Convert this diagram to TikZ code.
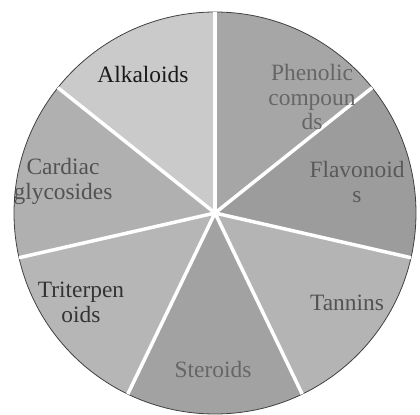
\documentclass[tikz,border=0pt]{standalone}
\usepackage{fontspec}
\setmainfont{Liberation Serif}
\usetikzlibrary{calc}
\definecolor{cPhen}{HTML}{A6A6A6}
\definecolor{cFlav}{HTML}{9C9C9C}
\definecolor{cTann}{HTML}{B4B4B4}
\definecolor{cSter}{HTML}{A2A2A2}
\definecolor{cTrit}{HTML}{B6B6B6}
\definecolor{cCard}{HTML}{B0B0B0}
\definecolor{cAlka}{HTML}{CACACA}
\begin{document}
\begin{tikzpicture}[x=1bp,y=1bp,
  lbl/.style={inner sep=0pt, align=center, font=\fontsize{23.5}{25}\selectfont},
  sep/.style={white, line width=3.5bp},
  rim/.style={draw=black!75, line width=0.8bp}]
\useasboundingbox (0,0) rectangle (420,415);
\coordinate (c) at (215,202);
\def\R{201}
\foreach \i/\col in {0/cPhen,1/cFlav,2/cTann,3/cSter,4/cTrit,5/cCard,6/cAlka}{
  \pgfmathsetmacro\aS{90-\i*360/7}
  \pgfmathsetmacro\aE{90-(\i+1)*360/7}
  \fill[\col] (c) -- ++(\aS:\R) arc[start angle=\aS, end angle=\aE, radius=\R] -- cycle;
}
\draw[rim] (c) circle[radius=\R];
\foreach \i in {0,...,6}{
  \pgfmathsetmacro\aS{90-\i*360/7}
  \coordinate (e\i) at ($(c)+(\aS:\R)$);
  \draw[sep] (c) -- (e\i);
}
\node[lbl, text=black!60] (phen) at (312,318) {Phenolic\\compoun\\ds};
\node[lbl, text=black!65] (flav) at (357,233) {Flavonoid\\s};
\node[lbl, text=black!68] (tann) at (347,112.5) {Tannins};
\node[lbl, text=black!60] (ster) at (213,45.5) {Steroids};
\node[lbl, text=black!80] (trit) at (81,113) {Triterpen\\oids};
\node[lbl, text=black!68] (card) at (63,234) {Cardiac\\glycosides};
\node[lbl, text=black!90] (alka) at (143,340.5) {Alkaloids};
\end{tikzpicture}
\end{document}
